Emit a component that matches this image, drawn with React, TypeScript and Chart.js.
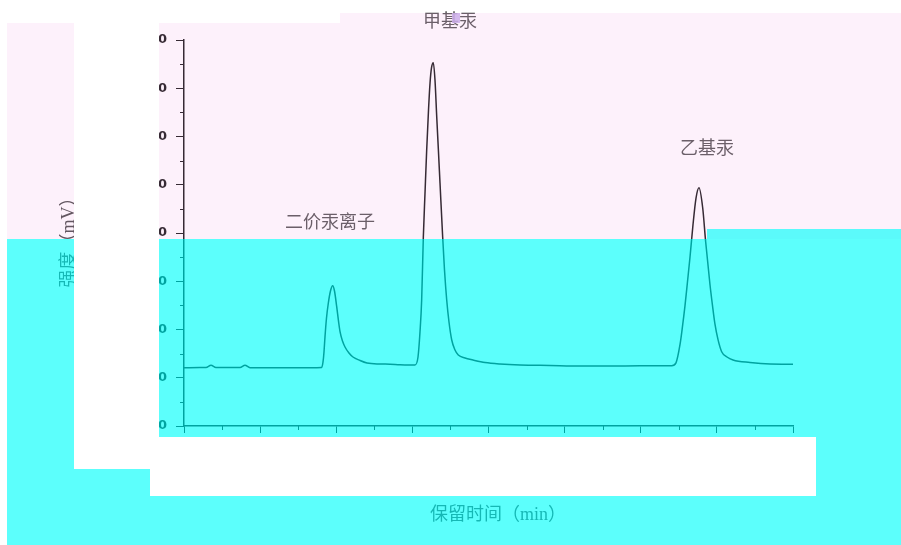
import { useEffect, useRef } from "react";
import { Chart, registerables } from "chart.js";

Chart.register(...registerables);

// Retention time (min)
const timeMin = [
  0, 0.21, 0.289, 0.355, 0.42, 0.736, 0.801, 0.867, 1.261, 1.655, 1.809,
  1.826, 1.839, 1.852, 1.872, 1.896, 1.924, 1.953, 1.977, 2.006, 2.03, 2.049,
  2.082, 2.115, 2.167, 2.22, 2.312, 2.404, 2.575, 2.706, 2.837, 2.969, 3.034,
  3.074, 3.1, 3.122, 3.144, 3.166, 3.188, 3.212, 3.232, 3.251, 3.275, 3.297,
  3.32, 3.343, 3.363, 3.398, 3.422, 3.451, 3.481, 3.517, 3.56, 3.603, 3.691,
  3.796, 3.954, 4.151, 4.414, 4.808, 5.202, 5.596, 5.99, 6.406,
  6.463, 6.516, 6.548, 6.581, 6.614, 6.647, 6.686, 6.726, 6.765, 6.814, 6.853,
  6.91, 6.943, 6.975, 7.015, 7.063, 7.133, 7.212, 7.435, 7.698, 8.0,
];

// Signal intensity (mV)
const signal = [
  12.08, 12.12, 12.12, 12.6, 12.12, 12.12, 12.6, 12.08, 12.06, 12.08, 12.12,
  13.26, 15.34, 18.45, 22.38, 25.49, 27.98, 29.08, 27.98, 24.73, 21.7, 19.6,
  17.6, 16.37, 15.13, 14.3, 13.58, 13.06, 12.85, 12.81, 12.68, 12.64, 12.64,
  14.3, 19.48, 26.11, 39.17, 48.29, 57.2, 65.49, 71.09, 74.2, 75.3, 71.71,
  64.04, 56.79, 50.36, 39.17, 32.33, 26.11, 21.55, 17.82, 15.75, 14.72, 14.09,
  13.68, 13.16, 12.85, 12.64, 12.54, 12.44, 12.44, 12.48, 12.5,
  13.1, 16.9, 20.6, 24.9, 29.9, 35.0, 41.66, 47.25, 49.39, 45.18, 38.13,
  29.22, 24.9, 21.1, 17.9, 15.4, 14.3, 13.68, 13.16, 12.85, 12.81,
];

// Peak annotations (anchored in data coordinates)
const peakNames = ["二价汞离子", "甲基汞", "乙基汞"];
const peakLabelX = [1.918, 3.494, 6.87];
const peakLabelY = [42.4, 84.1, 57.8];

const xTitle = "保留时间（min）";
const yTitle = "强度（mV）";

const xMin = 0;
const xMax = 8;
const xStep = 1;
const yMin = 0;
const yMax = 80;
const yStep = 10;

const extrasPlugin = {
  id: "extras",
  afterDraw(chart: any) {
    const { ctx, chartArea, scales } = chart;
    const xs = scales.x;
    const ys = scales.y;
    ctx.save();
    ctx.strokeStyle = "#000";
    ctx.lineWidth = 1;
    // minor ticks on y
    for (let v = yMin + yStep / 2; v < yMax; v += yStep) {
      const py = Math.round(ys.getPixelForValue(v)) + 0.5;
      ctx.beginPath();
      ctx.moveTo(chartArea.left - 4, py);
      ctx.lineTo(chartArea.left, py);
      ctx.stroke();
    }
    // minor ticks on x
    for (let v = xMin + xStep / 2; v < xMax; v += xStep) {
      const px = Math.round(xs.getPixelForValue(v)) + 0.5;
      ctx.beginPath();
      ctx.moveTo(px, chartArea.bottom);
      ctx.lineTo(px, chartArea.bottom + 4);
      ctx.stroke();
    }
    // peak labels
    ctx.font = '18px "Noto Sans CJK SC"';
    ctx.fillStyle = "#454545";
    ctx.textAlign = "center";
    ctx.textBaseline = "middle";
    peakNames.forEach((name, i) => {
      ctx.fillText(
        name,
        xs.getPixelForValue(peakLabelX[i]),
        ys.getPixelForValue(peakLabelY[i])
      );
    });
    // axis titles
    ctx.font = '18px "Liberation Serif", "Noto Sans CJK SC"';
    ctx.fillStyle = "#3a3a3a";
    ctx.fillText(xTitle, chartArea.left + 314, chartArea.bottom + 89);
    ctx.translate(chartArea.left - 115, 238);
    ctx.rotate(-Math.PI / 2);
    ctx.fillText(yTitle, 0, 0);
    ctx.restore();
  },
};

const tickFont = { family: "DejaVu Sans", size: 13, weight: "bold" as const };

export default function App() {
  const canvasRef = useRef<HTMLCanvasElement | null>(null);

  useEffect(() => {
    if (!canvasRef.current) return;
    const chart = new Chart(canvasRef.current, {
      type: "line",
      data: {
        datasets: [
          {
            data: timeMin.map((t, i) => ({ x: t, y: signal[i] })),
            borderColor: "#000",
            borderWidth: 1.5,
            pointRadius: 0,
            fill: false,
            cubicInterpolationMode: "monotone",
          },
        ],
      },
      options: {
        animation: false,
        responsive: true,
        maintainAspectRatio: false,
        layout: { padding: { left: 0, top: 40, right: 108, bottom: 0 } },
        plugins: {
          legend: { display: false },
          tooltip: { enabled: false },
          title: { display: false },
        },
        scales: {
          x: {
            type: "linear",
            min: xMin,
            max: xMax,
            ticks: { stepSize: xStep, color: "#000", font: tickFont, padding: 4 },
            grid: {
              drawOnChartArea: false,
              drawTicks: true,
              tickLength: 7,
              color: "#000",
              lineWidth: 1,
            },
            border: { display: true, color: "#000", width: 1.5 },
            afterFit: (scale: any) => {
              scale.height = 119;
            },
          },
          y: {
            type: "linear",
            min: yMin,
            max: yMax,
            ticks: { stepSize: yStep, color: "#000", font: tickFont, padding: 9 },
            grid: {
              drawOnChartArea: false,
              drawTicks: true,
              tickLength: 8,
              color: "#000",
              lineWidth: 1,
            },
            border: { display: true, color: "#000", width: 1.5 },
            afterFit: (scale: any) => {
              scale.width = 184;
            },
          },
        },
      },
      plugins: [extrasPlugin],
    });
    return () => chart.destroy();
  }, []);

  const box = (l: number, t: number, w: number, h: number, bg: string) => ({
    position: "absolute" as const,
    left: l,
    top: t,
    width: w,
    height: h,
    background: bg,
    pointerEvents: "none" as const,
  });

  const pink = "rgba(245,190,235,0.22)";
  const cyan = "rgba(0,255,250,0.64)";

  return (
    <div
      style={{
        position: "fixed",
        left: 0,
        top: 0,
        width: 901,
        height: 545,
        background: "#fff",
        overflow: "hidden",
      }}
    >
      <canvas ref={canvasRef} />
      <div style={box(7, 23, 894, 216, pink)} />
      <div style={box(340, 13, 561, 10, pink)} />
      <div style={box(7, 239, 700, 306, cyan)} />
      <div style={box(707, 229, 194, 316, cyan)} />
      <div style={box(452, 13, 8, 10, "rgba(205,175,235,0.85)")} />
      <div style={box(74, 0, 85, 437, "#fff")} />
      <div style={box(74, 437, 76, 32, "#fff")} />
      <div style={box(150, 437, 666, 59, "#fff")} />
    </div>
  );
}
